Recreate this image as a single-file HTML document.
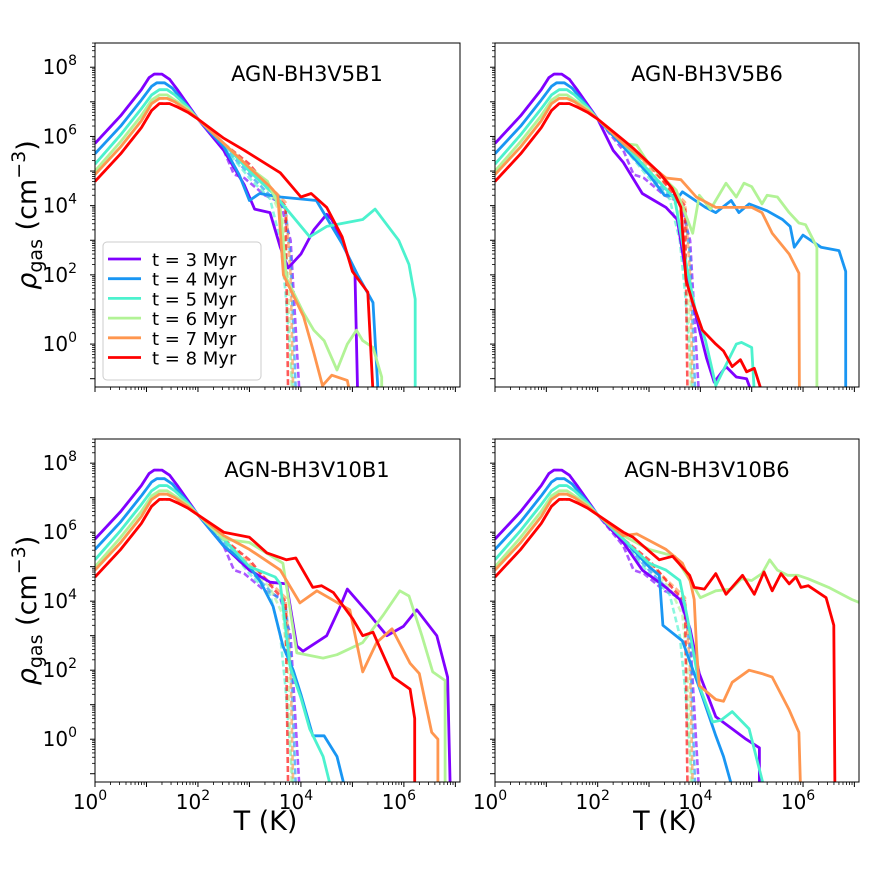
<!DOCTYPE html>
<html><head><meta charset="utf-8"><style>
body{margin:0;background:#fff;}
svg{display:block;font-family:"DejaVu Sans","Liberation Sans",sans-serif;}
</style></head><body>
<svg id="fig" width="872" height="872" viewBox="0 0 872 872" xmlns="http://www.w3.org/2000/svg"></svg>
<script>
const xDomain=[0,7.09];
const yDomain=[-1.24,8.7];
const seriesNames=["t = 3 Myr","t = 4 Myr","t = 5 Myr","t = 6 Myr","t = 7 Myr","t = 8 Myr"];
const colors=["#8000ff","#1996f3","#4cf2ce","#b2f396","#ff964f","#ff0000"];
const panelTitles=["AGN-BH3V5B1","AGN-BH3V5B6","AGN-BH3V10B1","AGN-BH3V10B6"];
const xTickLabels=[0,2,4,6];
const yTickLabels=[0,2,4,6,8];
const head=[
[[0,5.8],[0.5,6.6],[0.9,7.35],[1.05,7.7],[1.15,7.8],[1.3,7.8],[1.45,7.65],[1.6,7.35],[2.0,6.5]],
[[0,5.5],[0.5,6.3],[0.9,7.05],[1.1,7.45],[1.2,7.55],[1.35,7.55],[1.5,7.4],[1.7,7.05],[2.0,6.5]],
[[0,5.2],[0.5,6.05],[0.9,6.8],[1.1,7.2],[1.25,7.35],[1.4,7.35],[1.55,7.2],[1.8,6.85],[2.0,6.5]],
[[0,5.0],[0.5,5.85],[0.9,6.6],[1.1,7.05],[1.25,7.2],[1.4,7.2],[1.55,7.05],[1.8,6.8],[2.0,6.5]],
[[0,4.9],[0.5,5.7],[0.9,6.45],[1.1,6.95],[1.25,7.1],[1.4,7.1],[1.55,7.0],[1.8,6.75],[2.0,6.5]],
[[0,4.7],[0.5,5.5],[0.9,6.25],[1.1,6.75],[1.25,6.95],[1.45,6.95],[1.6,6.85],[1.8,6.7],[2.0,6.5]]];
const dashTails=[
[[2.5,5.6],[2.7,4.9],[2.9,4.8],[3.3,4.3],[3.6,4.1],[3.8,3.0],[3.97,-1.4]],
[[2.5,5.7],[3.0,4.9],[3.4,4.3],[3.7,3.9],[3.8,2.5],[3.9,-1.4]],
[[2.5,5.7],[3.0,4.8],[3.4,4.2],[3.6,3.0],[3.7,1.5],[3.85,-1.4]],
[[2.5,5.8],[3.0,5.0],[3.4,4.4],[3.65,3.6],[3.75,2.0],[3.82,-1.4]],
[[2.5,5.8],[3.0,5.1],[3.5,4.4],[3.7,4.1],[3.8,2.0],[3.85,-1.4]],
[[2.5,5.8],[3.0,5.2],[3.5,4.3],[3.7,4.0],[3.75,-1.4]]];
const tailsTL=[
[[2.5,5.6],[2.9,4.6],[3.1,3.9],[3.4,3.8],[3.6,2.8],[3.75,2.2],[4.0,2.6],[4.25,3.3],[4.5,3.75],[4.6,3.6],[4.8,3.0],[5.05,2.0],[5.1,-1.4]],
[[2.5,5.7],[2.8,4.9],[3.0,4.15],[3.2,4.35],[3.6,4.25],[4.3,4.15],[4.6,3.4],[4.8,2.9],[5.1,2.0],[5.4,1.2],[5.5,-1.4]],
[[2.5,5.8],[3.0,5.0],[3.5,4.3],[4.17,3.1],[4.5,3.4],[5.2,3.6],[5.44,3.9],[5.9,3.0],[6.1,2.3],[6.22,1.3],[6.22,-1.4]],
[[2.5,5.8],[3.0,5.1],[3.35,4.7],[3.6,3.9],[3.72,1.9],[4.05,0.9],[4.25,0.4],[4.45,0.1],[4.7,-0.75],[4.9,0],[5.08,0.4],[5.2,0.1],[5.4,-0.1],[5.57,-0.95],[5.57,-1.4]],
[[2.5,5.8],[3.0,5.1],[3.4,4.55],[3.55,4.3],[3.66,2.0],[4.05,0.8],[4.25,-0.25],[4.42,-1.2],[4.6,-0.9],[4.9,-1.05],[4.95,-1.4]],
[[2.5,5.95],[2.9,5.6],[3.6,4.95],[4.0,4.25],[4.2,4.35],[4.5,3.95],[4.8,3.1],[5.0,2.1],[5.3,1.5],[5.4,-1.4]]];
const tailsTR=[
[[2.3,5.6],[2.5,5.25],[2.87,4.35],[3.1,4.15],[3.33,3.95],[3.55,3.6],[3.7,2.2],[3.85,1.2],[4.0,0.3],[4.12,-0.4],[4.27,-1.1],[4.5,-0.65],[4.7,-0.95],[4.9,-1.0],[5.0,-1.4]],
[[2.5,5.7],[3.0,4.9],[3.3,4.3],[3.6,4.3],[3.65,4.4],[4.1,3.95],[4.3,3.8],[4.6,4.15],[4.75,3.8],[4.95,4.05],[5.3,3.85],[5.6,3.6],[5.75,3.4],[5.83,2.8],[6.0,3.15],[6.35,2.8],[6.7,2.7],[6.83,2.1],[6.83,-1.4]],
[[2.5,5.8],[3.0,5.0],[3.5,4.2],[3.7,2.5],[3.9,1.0],[4.1,0.1],[4.3,-1.2],[4.5,-0.6],[4.7,0],[4.8,0.05],[5.0,-0.1],[5.05,-1.4]],
[[2.5,5.8],[2.76,5.75],[3.0,5.2],[3.53,4.45],[3.85,3.2],[3.98,4.3],[4.2,3.9],[4.5,4.65],[4.7,4.25],[4.85,4.65],[5.0,4.55],[5.2,4.05],[5.3,4.3],[5.5,4.25],[5.73,3.8],[5.92,3.5],[6.05,3.45],[6.27,2.8],[6.27,-1.4]],
[[2.5,5.8],[3.0,5.2],[3.33,4.8],[3.62,4.75],[3.92,4.25],[4.3,3.95],[5.0,3.95],[5.2,3.8],[5.4,3.2],[5.73,2.6],[5.92,2.05],[5.93,-1.4]],
[[2.5,5.9],[2.7,5.65],[3.2,4.95],[3.45,4.5],[3.62,3.95],[3.72,1.85],[3.85,1.2],[4.04,0.4],[4.3,0],[4.45,-0.2],[4.62,-0.65],[4.78,-0.45],[4.9,-0.8],[5.05,-0.7],[5.2,-1.4]]];
const tailsBL=[
[[2.5,5.6],[3.0,4.9],[3.4,4.55],[3.72,4.5],[3.92,2.7],[4.04,2.55],[4.5,3.0],[4.75,3.8],[4.9,4.35],[5.34,3.6],[5.67,3.0],[5.99,3.27],[6.25,3.75],[6.64,3.0],[6.85,1.8],[6.9,-1.4]],
[[2.5,5.6],[3.0,5.0],[3.2,4.6],[3.46,3.85],[3.65,2.7],[3.85,2.0],[4.0,1.3],[4.23,0.1],[4.45,0.1],[4.7,-0.5],[4.85,-1.4]],
[[2.5,5.8],[3.0,5.0],[3.5,4.7],[3.6,4.5],[3.79,2.1],[4.0,1.2],[4.17,0.3],[4.43,-0.5],[4.58,-1.4]],
[[2.5,5.8],[3.0,5.7],[3.65,5.1],[3.92,2.5],[4.43,2.35],[4.7,2.45],[5.2,2.8],[5.6,3.6],[5.92,4.3],[6.1,4.15],[6.35,3.0],[6.56,1.95],[6.8,1.7],[6.8,-1.4]],
[[2.5,5.9],[3.0,5.5],[3.6,4.9],[3.98,3.95],[4.31,4.3],[4.95,3.75],[5.2,1.95],[5.47,2.8],[5.77,3.2],[6.12,2.2],[6.3,1.9],[6.54,0.2],[6.66,0],[6.66,-1.4]],
[[2.5,6.0],[3.0,5.85],[3.34,5.4],[3.72,5.2],[3.9,5.25],[4.23,4.4],[4.4,4.45],[4.63,4.25],[5.0,3.5],[5.2,3.0],[5.4,3.1],[5.79,1.8],[6.12,1.45],[6.21,0.6],[6.21,-1.4]]];
const tailsBR=[
[[2.5,5.7],[2.87,4.9],[3.33,4.4],[3.6,4.05],[3.8,3.2],[3.98,1.9],[4.3,0.65],[4.62,0.3],[4.89,0],[5.15,-0.25],[5.15,-1.4]],
[[2.5,5.8],[3.0,5.0],[3.2,4.75],[3.27,3.3],[3.65,2.85],[3.98,1.5],[4.3,0.1],[4.45,-0.5],[4.62,-1.4]],
[[2.5,5.8],[3.0,5.1],[3.33,4.9],[3.6,4.6],[3.75,3.5],[3.98,1.55],[4.24,0.5],[4.4,0.55],[4.62,0.8],[4.95,0.3],[5.24,-1.4]],
[[2.5,5.9],[3.0,5.5],[3.5,5.3],[3.8,4.6],[4.0,4.1],[4.3,4.3],[4.6,4.35],[4.8,4.65],[5.0,4.6],[5.2,4.8],[5.35,5.2],[5.5,4.9],[5.7,4.75],[5.9,4.75],[6.1,4.65],[6.5,4.4],[6.95,4.05],[7.2,3.9]],
[[2.5,5.9],[2.76,5.95],[3.33,5.5],[3.65,5.1],[3.8,4.6],[3.88,4.05],[3.93,2.5],[3.98,1.55],[4.3,1.15],[4.45,1.1],[4.62,1.65],[4.95,2.0],[5.2,1.9],[5.4,1.8],[5.73,0.85],[5.92,0.2],[5.95,-1.4]],
[[2.5,6.0],[2.69,5.85],[3.2,5.2],[3.46,5.3],[3.79,4.75],[3.88,4.4],[4.08,4.35],[4.3,4.8],[4.5,4.2],[4.82,4.75],[5.05,4.2],[5.24,4.85],[5.4,4.3],[5.57,4.8],[5.73,4.5],[5.86,4.7],[5.96,4.4],[6.1,4.45],[6.45,4.1],[6.6,3.3],[6.62,-1.4]]];
const panelTails=[tailsTL,tailsTR,tailsBL,tailsBR];

const NS="http://www.w3.org/2000/svg";
const svg=document.getElementById('fig');
function mk(tag,attrs,parent){const e=document.createElementNS(NS,tag);for(const k in attrs)e.setAttribute(k,attrs[k]);(parent||svg).appendChild(e);return e;}
const boxes=[{x0:95,x1:460,y0:43,y1:387},{x0:495,x1:859,y0:43,y1:387},{x0:95,x1:460,y0:439,y1:782},{x0:495,x1:859,y0:439,y1:782}];
const defs=mk('defs',{});
boxes.forEach((b,i)=>{
  const cp=mk('clipPath',{id:'cp'+i},defs);
  mk('rect',{x:b.x0,y:b.y0,width:b.x1-b.x0,height:b.y1-b.y0},cp);
});
const pname=['top-left','top-right','bottom-left','bottom-right'];
boxes.forEach((b,pi)=>{
  const sx=v=>b.x0+(v-xDomain[0])/(xDomain[1]-xDomain[0])*(b.x1-b.x0);
  const sy=v=>b.y1-(v-yDomain[0])/(yDomain[1]-yDomain[0])*(b.y1-b.y0);
  const g=mk('g',{});
  
  
  const lg=mk('g',{'clip-path':'url(#cp'+pi+')'},g);
  for(let s=0;s<6;s++){
    const pts=head[s].concat(dashTails[s]).map(p=>sx(p[0]).toFixed(1)+','+sy(p[1]).toFixed(1)).join(' ');
    const pl=mk('polyline',{points:pts,fill:'none',stroke:colors[s],'stroke-width':2.6,'stroke-dasharray':'6,3','stroke-opacity':0.65,'stroke-linejoin':'round'},lg);
    
    
  }
  for(let s=0;s<6;s++){
    const pts=head[s].concat(panelTails[pi][s]).map(p=>sx(p[0]).toFixed(1)+','+sy(p[1]).toFixed(1)).join(' ');
    const pl=mk('polyline',{points:pts,fill:'none',stroke:colors[s],'stroke-width':2.8,'stroke-linejoin':'round'},lg);
    
    
  }
  mk('rect',{x:b.x0,y:b.y0,width:b.x1-b.x0,height:b.y1-b.y0,fill:'none',stroke:'#000','stroke-width':1},g);
  for(let d=0;d<=7;d++){
    for(let m=1;m<=9;m++){
      const v=d+Math.log10(m); if(v>xDomain[1])continue;
      const X=sx(v); const major=(m===1);
      mk('line',{x1:X,x2:X,y1:b.y1,y2:b.y1+(major?5:3),stroke:'#000','stroke-width':major?1:0.8},g);
    }
  }
  for(let d=-1;d<=8;d++){
    for(let m=1;m<=9;m++){
      const v=d+Math.log10(m); if(v>yDomain[1]||v<yDomain[0])continue;
      const Y=sy(v); const major=(m===1);
      mk('line',{x1:b.x0,x2:b.x0-(major?5:3),y1:Y,y2:Y,stroke:'#000','stroke-width':major?1:0.8},g);
    }
  }
  if(pi>=2){
    xTickLabels.forEach(v=>{
      const t=mk('text',{x:sx(v)-5,y:b.y1+27,'font-size':20,'text-anchor':'middle'},g);
      
      
      t.innerHTML='10<tspan dy="-9" font-size="14">'+v+'</tspan>';
    });
    const xl=mk('text',{x:(b.x0+b.x1)/2-12,y:830,'font-size':27,'text-anchor':'middle'},g);
    
    
    xl.textContent='T (K)';
  }
  if(pi%2===0){
    yTickLabels.forEach(v=>{
      const t=mk('text',{x:b.x0-18,y:sy(v)+7,'font-size':20,'text-anchor':'end'},g);
      
      
      t.innerHTML='10<tspan dy="-9" font-size="14">'+v+'</tspan>';
    });
    const cy=(b.y0+b.y1)/2;
    const yl=mk('text',{x:0,y:0,'font-size':27,'text-anchor':'middle',transform:'translate(36,'+cy+') rotate(-90)'},g);
    
    
    yl.innerHTML='<tspan font-style="italic">ρ</tspan><tspan font-size="19" dy="6">gas</tspan><tspan dy="-6"> (cm</tspan><tspan font-size="19" dy="-11">−3</tspan><tspan dy="11">)</tspan>';
  }
  const tt=mk('text',{x:b.x0+212,y:b.y0+38,'font-size':21,'text-anchor':'middle'},g);
  
  
  tt.textContent=panelTitles[pi];
  if(pi===0){
    const leg=mk('g',{},g);
    
    
    mk('rect',{x:103,y:242,width:158,height:138,rx:4,fill:'#fff','fill-opacity':0.85,stroke:'#ccc','stroke-width':1},leg);
    seriesNames.forEach((n,s)=>{
      const y=259+s*19.7;
      const e=mk('g',{},leg);
      
      
      mk('line',{x1:108,x2:141,y1:y,y2:y,stroke:colors[s],'stroke-width':2.8},e);
      const t=mk('text',{x:152,y:y+7,'font-size':18},e);
      t.textContent=n;
    });
  }
});
</script>
</body></html>
